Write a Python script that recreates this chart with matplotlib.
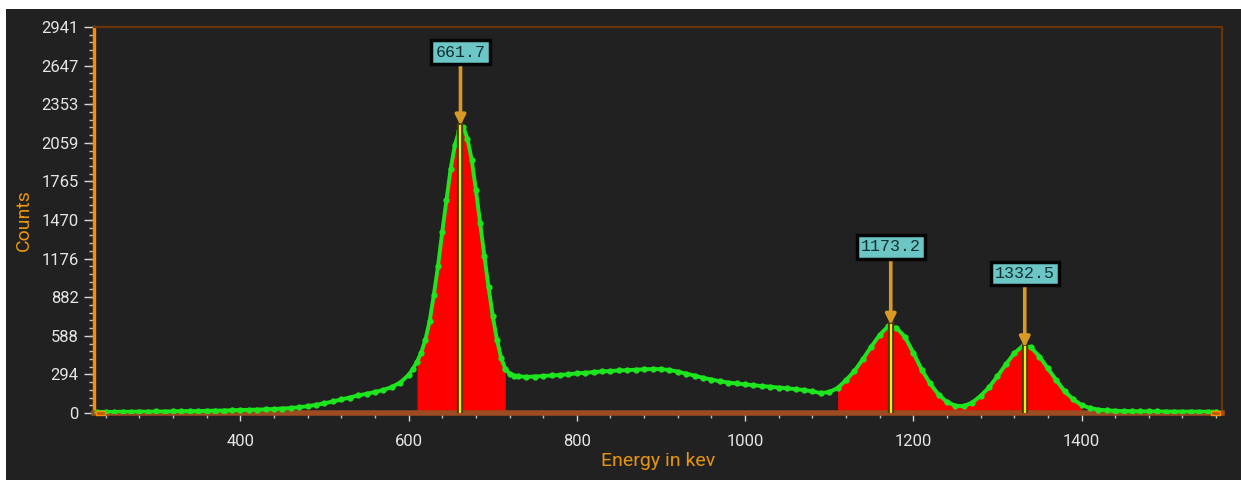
import matplotlib
matplotlib.use("Agg")
import matplotlib.pyplot as plt
import matplotlib.patheffects as pe
from matplotlib.patches import Rectangle
from matplotlib.ticker import MultipleLocator, FixedLocator
import numpy as np

# spectrum (energy in keV, counts)
energy = [230, 240, 250, 260, 270, 280, 290, 300, 310, 320, 330, 340, 350, 360, 370,
          380, 390, 400, 410, 420, 430, 440, 450, 460, 470, 480, 490, 500, 510, 520,
          530, 540, 550, 560, 570, 580, 590, 600, 605, 610, 615, 620, 625, 630, 635,
          640, 645, 650, 655, 660, 665, 670, 675, 680, 685, 690, 695, 700, 705, 710,
          715, 720, 725, 730, 740, 750, 760, 770, 780, 790, 800, 810, 820, 830, 840,
          850, 860, 870, 880, 890, 900, 910, 920, 930, 940, 950, 960, 970, 980, 990,
          1000, 1010, 1020, 1030, 1040, 1050, 1060, 1070, 1080, 1090, 1100, 1110, 1120, 1130, 1140,
          1150, 1160, 1170, 1180, 1190, 1200, 1210, 1220, 1230, 1240, 1250, 1260, 1270, 1280, 1290,
          1300, 1310, 1320, 1330, 1340, 1350, 1360, 1370, 1380, 1390, 1400, 1410, 1420, 1430, 1440,
          1450, 1460, 1470, 1480, 1490, 1500, 1510, 1520, 1530, 1540, 1550, 1560]
counts = [8, 9, 8, 10, 9, 11, 10, 12, 11, 13, 14, 15, 15, 17, 18,
          19, 21, 23, 24, 26, 28, 31, 34, 38, 44, 52, 62, 74, 88, 103,
          118, 134, 146, 160, 176, 198, 232, 290, 335, 390, 460, 560, 700, 900, 1120,
          1380, 1620, 1860, 2040, 2150, 2180, 2090, 1930, 1700, 1450, 1200, 960, 740, 560, 420,
          335, 300, 285, 280, 275, 278, 282, 286, 290, 295, 302, 306, 312, 317, 320,
          324, 327, 330, 333, 335, 334, 328, 315, 300, 285, 268, 255, 242, 232, 225,
          218, 212, 205, 200, 194, 188, 182, 175, 165, 152, 160, 190, 250, 320, 410,
          505, 595, 660, 650, 580, 460, 330, 225, 140, 85, 55, 52, 80, 130, 195,
          280, 370, 455, 510, 500, 430, 340, 250, 165, 105, 60, 38, 26, 20, 17,
          15, 14, 13, 12, 12, 11, 11, 10, 11, 10, 10, 10]

# regions of interest (keV)
roi_starts = [610, 1110]
roi_ends = [715, 1400]

# identified peaks
peak_energy = [661.7, 1173.2, 1332.5]
peak_top = [2190, 672, 500]
label_y = [2750, 1265, 1065]
peak_labels = ["661.7", "1173.2", "1332.5"]

y_ticks = [0, 294, 588, 882, 1176, 1470, 1765, 2059, 2353, 2647, 2941]

bg = "#212121"
orange = "#e8960c"

fig = plt.figure(figsize=(12.41, 4.8), dpi=100, facecolor="white")
fig.patches.append(Rectangle((6 / 1241, 0), 1, 471 / 480, transform=fig.transFigure,
                             facecolor=bg, edgecolor="none", zorder=-10))
ax = fig.add_axes([94 / 1241, 1 - 413 / 480, (1222 - 94) / 1241, (413 - 27) / 480])
ax.set_facecolor(bg)

e = np.array(energy)
c = np.array(counts)
for lo, hi in zip(roi_starts, roi_ends):
    m = (e >= lo) & (e <= hi)
    ax.fill_between(e[m], 0, c[m], color="#ff0000", lw=0, zorder=2)

ax.plot(e, c, color="#1ee61e", lw=2.8, marker="o", ms=3.5, zorder=3)

for pe_, top in zip(peak_energy, peak_top):
    ax.plot([pe_, pe_], [0, top], color="#f5e81a", lw=1.6, zorder=4,
            path_effects=[pe.Stroke(linewidth=4.5, foreground="#4a3c00"), pe.Normal()])

for pe_, top, ly, lab in zip(peak_energy, peak_top, label_y, peak_labels):
    ax.annotate(lab, xy=(pe_, top), xytext=(pe_, ly), ha="center", va="center",
                fontsize=12, family="Liberation Mono", color="#10302f", zorder=6,
                bbox=dict(boxstyle="square,pad=0.25", facecolor="#6cc6c6",
                          edgecolor="#050505", linewidth=2.5),
                arrowprops=dict(arrowstyle="-|>", color="#d89a22", lw=2.6,
                                mutation_scale=15, shrinkA=0, shrinkB=0))

ax.set_xlim(226, 1567)
ax.set_ylim(0, 2941)
ax.xaxis.set_major_locator(FixedLocator([400, 600, 800, 1000, 1200, 1400]))
ax.xaxis.set_minor_locator(MultipleLocator(40))
ax.yaxis.set_major_locator(FixedLocator(y_ticks))
ax.yaxis.set_minor_locator(MultipleLocator(2941 / 50))

ax.tick_params(axis="both", which="major", colors="#d8d8d8", labelcolor="#e6e6e6",
               labelsize=12, direction="out", width=1)
ax.tick_params(axis="y", which="major", length=7, pad=4)
ax.tick_params(axis="x", which="major", length=6, pad=9)
ax.tick_params(axis="both", which="minor", colors="#bdbdbd", length=3.5, width=1)
for lab in ax.get_xticklabels() + ax.get_yticklabels():
    lab.set_family("Roboto")

ax.spines["left"].set_color("#ff8c00")
ax.spines["left"].set_linewidth(2.4)
ax.spines["bottom"].set_color("#9c4b22")
ax.spines["bottom"].set_linewidth(4)
ax.spines["top"].set_color("#6a3408")
ax.spines["right"].set_color("#6a3408")
ax.spines["top"].set_linewidth(1.6)
ax.spines["right"].set_linewidth(1.6)

ax.add_patch(Rectangle((0.002, -0.006), 0.008, 0.012, transform=ax.transAxes,
                       facecolor="#b85a10", edgecolor="#ff8c00", lw=1, clip_on=False, zorder=7))
ax.add_patch(Rectangle((0.990, -0.006), 0.008, 0.012, transform=ax.transAxes,
                       facecolor="#b85a10", edgecolor="#ff8c00", lw=1, clip_on=False, zorder=7))

ax.set_xlabel("Energy in kev", color=orange, fontsize=14, family="Roboto", labelpad=2)
ax.set_ylabel("Counts", color=orange, fontsize=14, family="Roboto", labelpad=6)

fig.savefig("out.png", dpi=100, facecolor="white")
